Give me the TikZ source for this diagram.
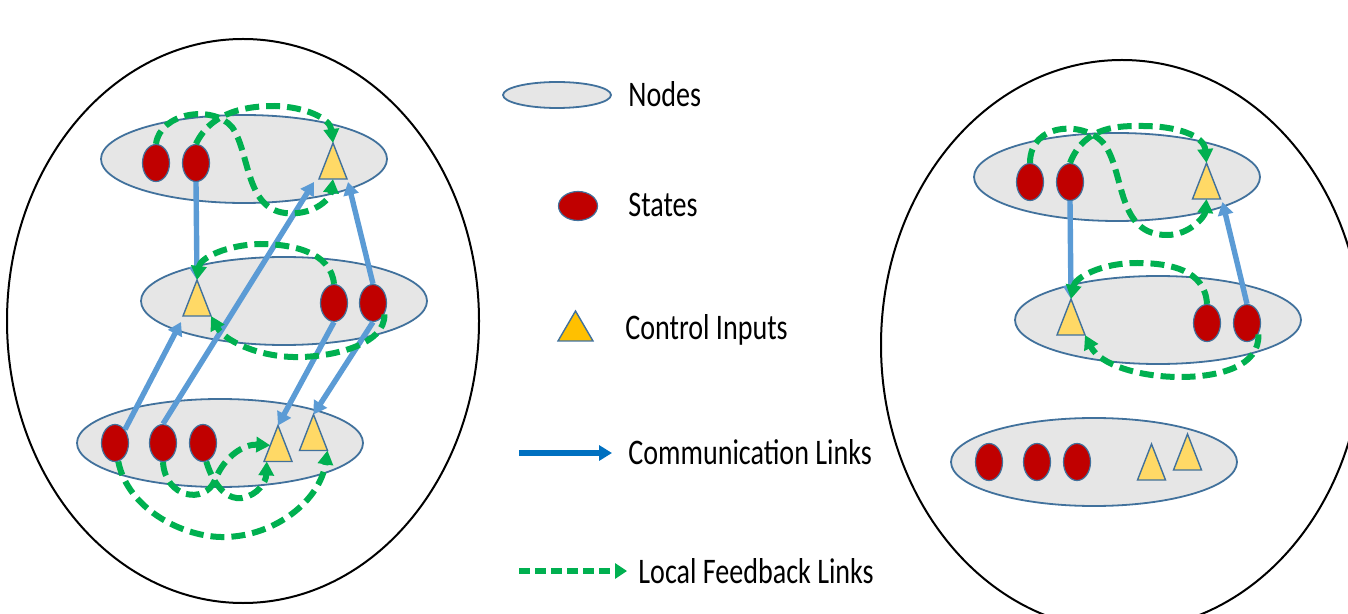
\documentclass[tikz,border=0pt]{standalone}
\usepackage{fontspec}
\setmainfont{Carlito}[FakeStretch=0.78]
\usetikzlibrary{shapes.geometric,arrows.meta,calc}

\definecolor{edgeBlue}{HTML}{41719C}
\definecolor{nodeGray}{HTML}{E6E6E6}
\definecolor{stateRed}{HTML}{C00000}
\definecolor{triYellow}{HTML}{FFD966}
\definecolor{legYellow}{HTML}{FFC000}
\definecolor{commBlue}{HTML}{5B9BD5}
\definecolor{legBlue}{HTML}{0070C0}
\definecolor{feedGreen}{HTML}{00B050}

\tikzset{
  cluster/.style={draw=black, line width=1pt},
  netnode/.style={ellipse, draw=edgeBlue, fill=nodeGray, line width=0.9pt,
    minimum width=143pt, minimum height=44pt, inner sep=0pt},
  state/.style={ellipse, draw=edgeBlue, fill=stateRed, line width=0.6pt,
    minimum width=13.5pt, minimum height=18.5pt, inner sep=0pt},
  trislot/.style={rectangle, minimum width=14pt, minimum height=18pt,
    inner sep=0pt, outer sep=0pt},
  trilook/.style={fill=triYellow, draw=edgeBlue, line width=0.7pt, line join=miter},
  comm/.style={draw=commBlue, line width=2.7pt, -{Triangle[length=6.5pt,width=7.5pt]}},
  feed/.style={draw=feedGreen, line width=3pt, dash pattern=on 7pt off 3.5pt,
    -{Triangle[length=7pt,width=7.5pt]}},
  legendtext/.style={font=\fontsize{18}{21.6}\selectfont, inner sep=0pt, anchor=base west}
}

\begin{document}
\begin{tikzpicture}[x=0.5pt, y=-0.5pt]
\useasboundingbox (0,0) rectangle (1348,614);
\clip (0,0) rectangle (1348,614);

% ---- the two clusters ----
\draw[cluster] (243,321) ellipse [x radius=236, y radius=282];
\draw[cluster] (1122,345) ellipse [x radius=241, y radius=285];

% ---- network nodes ----
\node[netnode] (lnA) at (244,159) {};
\node[netnode] (lnB) at (284,301) {};
\node[netnode] (lnC) at (220,443) {};
\node[netnode] (rnA) at (1117,177) {};
\node[netnode] (rnB) at (1158,320) {};
\node[netnode] (rnC) at (1094,462) {};

% ---- states ----
\node[state] (ls1) at (156,163) {};
\node[state] (ls2) at (196,163) {};
\node[state] (ms1) at (334,303) {};
\node[state] (ms2) at (373,303) {};
\node[state] (bs1) at (115,443) {};
\node[state] (bs2) at (163,443) {};
\node[state] (bs3) at (203,443) {};
\node[state] (rs1) at (1030,182) {};
\node[state] (rs2) at (1070,182) {};
\node[state] (rms1) at (1207,323) {};
\node[state] (rms2) at (1247,323) {};
\node[state] (rbs1) at (989,462) {};
\node[state] (rbs2) at (1037,462) {};
\node[state] (rbs3) at (1077,462) {};

% ---- control inputs ----
\node[trislot] (lt)   at (333,161) {};
\node[trislot] (mt)   at (197,298) {};
\node[trislot] (bt1)  at (278,443.5) {};
\node[trislot] (bt2)  at (313.5,432.5) {};
\node[trislot] (rt)   at (1206.5,181) {};
\node[trislot] (rmt)  at (1071,317) {};
\node[trislot] (rbt1) at (1151.5,462) {};
\node[trislot] (rbt2) at (1187.5,452) {};
\foreach \t in {lt,mt,bt1,bt2,rt,rmt,rbt1,rbt2}
  \filldraw[trilook] (\t.north) -- (\t.south west) -- (\t.south east) -- cycle;

% ---- communication links ----
\draw[comm] (ls2.south) -- (mt.north);
\draw[comm] (ms2.north) -- ($(lt.south east)+(1,3)$);
\draw[comm] (bs2.north) -- ($(lt.south west)+(-5,3)$);
\draw[comm] (bs1.north east) -- ($(mt.south west)+(-2,6)$);
\draw[comm] (ms1.south) -- (bt1.north);
\draw[comm] (ms2.south) -- (bt2.north);
\draw[comm] (rs2.south) -- (rmt.north);
\draw[comm] (rms2.north) -- ($(rt.south east)+(2,3)$);

% ---- local feedback links ----
\draw[feed] (ls1.north) .. controls (160,113) and (212,104) .. (232,127)
  .. controls (250,152) and (245,208) .. (285,213)
  .. controls (312,216) and (330,200) .. (lt.south);
\draw[feed] (ls2.north) .. controls (212,110) and (250,106) .. (275,106)
  .. controls (305,107) and (330,118) .. (lt.north);
\draw[feed] (ms1.north) .. controls (331,252) and (292,244) .. (260,244)
  .. controls (226,245) and (200,258) .. (mt.north);
\draw[feed] (ms2.-45) .. controls (386,345) and (330,358) .. (293,357)
  .. controls (256,356) and (224,340) .. (mt.south east);
\draw[feed] (bs1.-80) .. controls (128,510) and (185,538) .. (225,537)
  .. controls (276,536) and (320,500) .. (bt2.south east);
\draw[feed] (bs2.south) .. controls (165,498) and (205,505) .. (215,480)
  .. controls (225,455) and (245,444) .. ($(bt1.south west)!0.45!(bt1.north)$);
\draw[feed] (bs3.-80) .. controls (215,490) and (230,500) .. (242,498)
  .. controls (258,495) and (266,482) .. ($(bt1.south west)!0.1!(bt1.south east)$);
\draw[feed] (rs1.north) .. controls (1030,122) and (1086,120) .. (1105,145)
  .. controls (1125,175) and (1117,235) .. (1167,235)
  .. controls (1190,235) and (1205,216) .. (rt.south);
\draw[feed] (rs2.north) .. controls (1085,125) and (1120,126) .. (1143,126)
  .. controls (1175,126) and (1204,135) .. (rt.north);
\draw[feed] (rms1.north) .. controls (1205,270) and (1170,263) .. (1137,263)
  .. controls (1100,263) and (1075,278) .. (rmt.north);
\draw[feed] (rms2.-45) .. controls (1260,366) and (1220,377) .. (1180,377)
  .. controls (1140,377) and (1100,365) .. (rmt.south east);

% ---- legend ----
\node[netnode, minimum width=54pt, minimum height=13pt] (kNode) at (557,95) {};
\node[state, minimum width=19.5pt, minimum height=14.5pt] (kState) at (578,206) {};
\node[trislot, minimum width=17.5pt, minimum height=15pt] (kInput) at (575.5,326) {};
\filldraw[trilook, fill=legYellow] (kInput.north) -- (kInput.south west) -- (kInput.south east) -- cycle;
\coordinate (kCommA) at (519,453);
\coordinate (kCommB) at (612,453);
\draw[draw=legBlue, line width=2.8pt, -{Triangle[length=6.5pt,width=7.5pt]}] (kCommA) -- (kCommB);
\coordinate (kFeedA) at (519,571);
\coordinate (kFeedB) at (627,571);
\draw[draw=feedGreen, line width=2.8pt, dash pattern=on 5.5pt off 2.5pt,
  -{Triangle[length=6pt,width=7.5pt]}] (kFeedA) -- (kFeedB);

\node[legendtext] (tNodes) at (628,107) {Nodes};
\node[legendtext] (tStates) at (628,217) {States};
\node[legendtext] (tInputs) at (625,340) {Control Inputs};
\node[legendtext] (tComm) at (628,464) {Communication Links};
\node[legendtext] (tFeed) at (638,583) {Local Feedback Links};
\end{tikzpicture}
\end{document}
